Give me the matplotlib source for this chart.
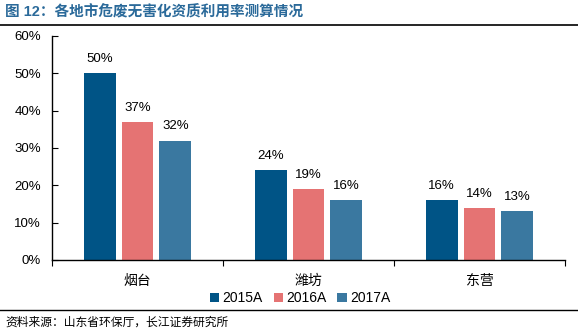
import numpy as np
import matplotlib.pyplot as plt
from matplotlib.lines import Line2D

plt.rcParams['font.family'] = ['Liberation Sans', 'Noto Sans CJK SC', 'DejaVu Sans']

cities = ['烟台', '潍坊', '东营']
years = ['2015A', '2016A', '2017A']
v2015 = [50, 24, 16]
v2016 = [37, 19, 14]
v2017 = [32, 16, 13]
colors = ['#005486', '#E57373', '#3A78A0']

fig = plt.figure(figsize=(5.78, 3.34), dpi=100)
ax = fig.add_axes([52/578, 74/334, 513/578, 224/334])

x = np.arange(len(cities))
w = 0.187
off = 0.222
for i, (vals, c, lab) in enumerate(zip([v2015, v2016, v2017], colors, years)):
    bars = ax.bar(x + (i - 1) * off, vals, w, color=c, label=lab)
    for b, v in zip(bars, vals):
        ax.text(b.get_x() + b.get_width() / 2, v + 2.2, f'{v}%',
                ha='center', va='bottom', fontsize=9.5)

ax.set_xlim(-0.5, 2.5)
ax.set_ylim(0, 60)
ax.set_yticks(range(0, 61, 10))
ax.set_yticklabels([f'{t}%' for t in range(0, 61, 10)], fontsize=9.5)
ax.set_xticks([-0.5, 0.5, 1.5, 2.5])
ax.set_xticklabels([])
ax.set_xticks(x, minor=True)
ax.set_xticklabels(cities, minor=True, fontsize=10)
ax.tick_params(axis='x', which='minor', length=0, pad=10)
ax.tick_params(axis='x', which='major', length=4, direction='out')
ax.tick_params(axis='y', length=4, direction='in', pad=8)
for s in ['top', 'right']:
    ax.spines[s].set_visible(False)
ax.spines['left'].set_linewidth(1.0)
ax.spines['bottom'].set_linewidth(1.0)

ax.legend(loc='upper center', bbox_to_anchor=(248/513, -0.115), ncol=3,
          frameon=False, fontsize=10, handlelength=0.7, handleheight=0.7,
          handletextpad=0.2, columnspacing=0.8, borderaxespad=0)

fig.text(5/578, 1 - 12/334, '图 12：各地市危废无害化资质利用率测算情况', fontsize=10.5,
         color='#2B6A9A', fontweight='bold', va='center', ha='left')
fig.add_artist(Line2D([0, 1], [1 - 25/334, 1 - 25/334], color='black', lw=1.2))
fig.add_artist(Line2D([0, 1], [1 - 310/334, 1 - 310/334], color='black', lw=1.0))
fig.text(5/578, 1 - 323/334, '资料来源：山东省环保厅，长江证券研究所', fontsize=8.5,
         va='center', ha='left')

fig.savefig('out.png', dpi=100)
